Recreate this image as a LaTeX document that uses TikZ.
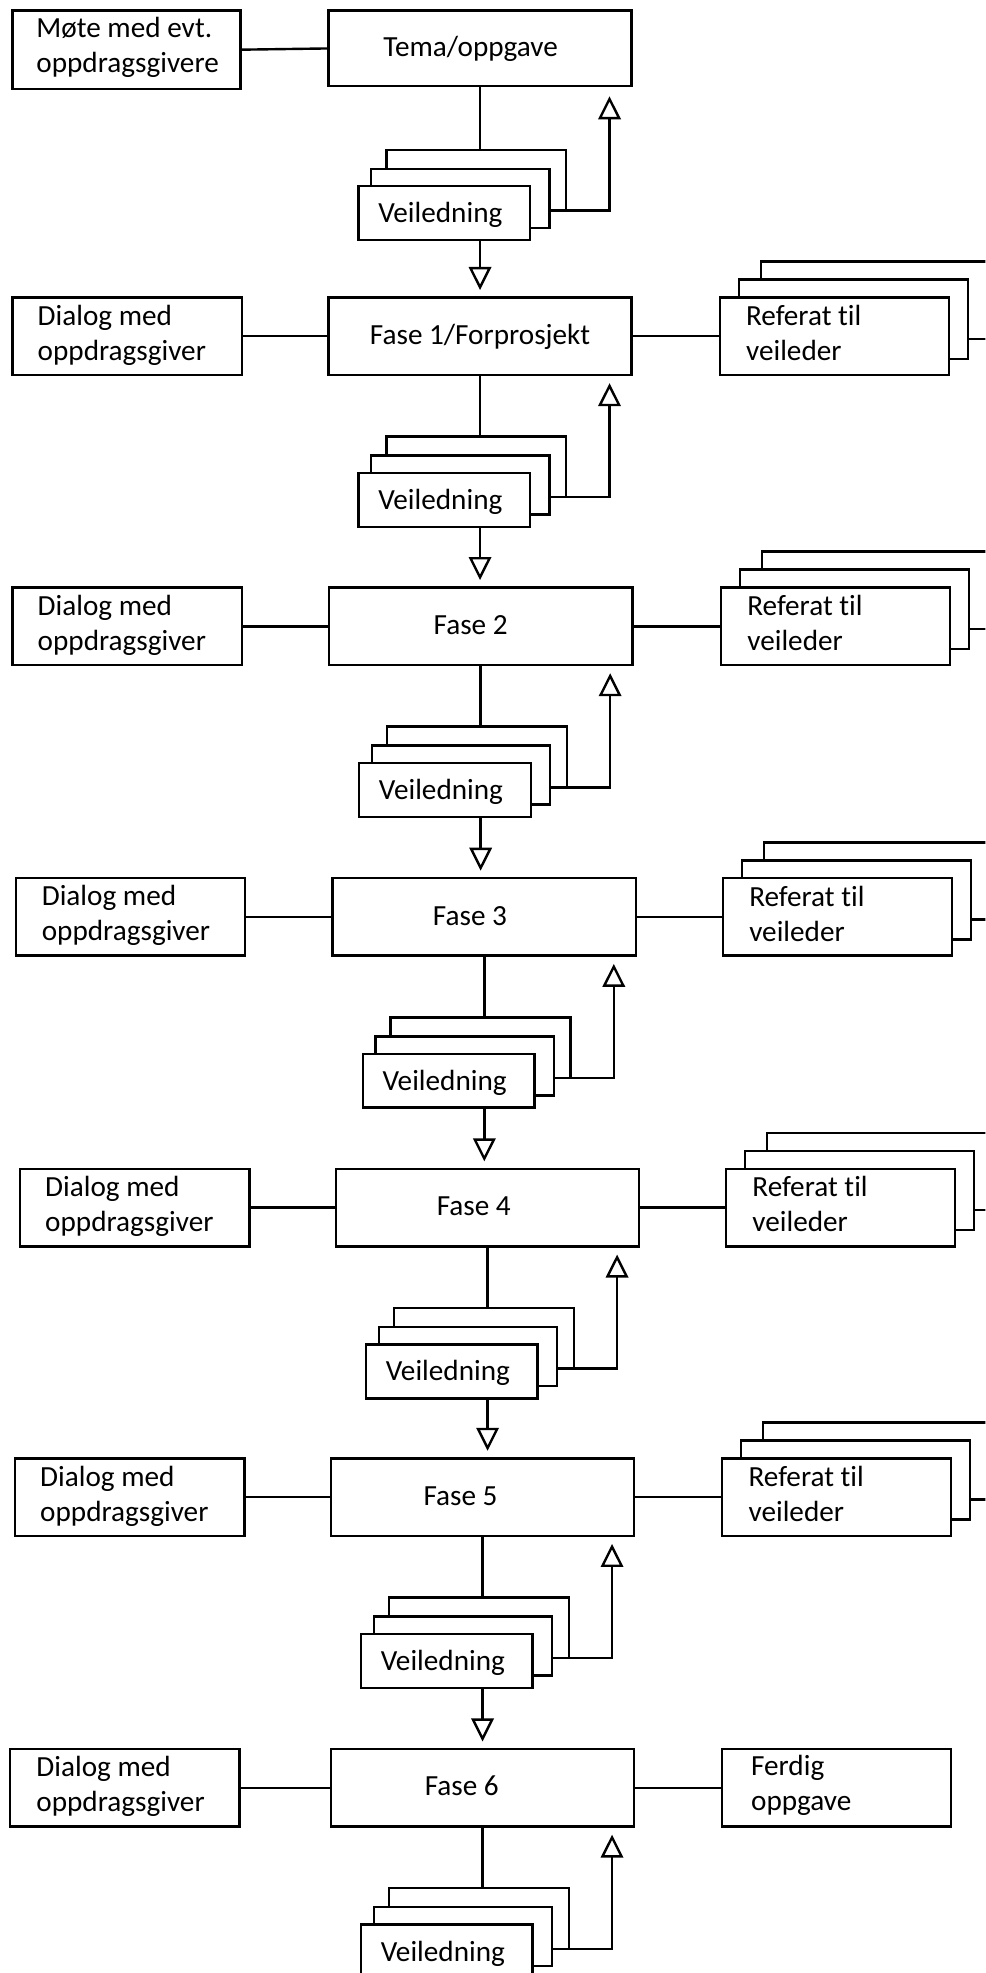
\documentclass[tikz,border=0pt]{standalone}
\usepackage{fontspec}
\setmainfont[Ligatures=NoCommon]{Carlito}
\usetikzlibrary{arrows.meta}
\begin{document}
\begin{tikzpicture}[x=0.629pt, y=-0.629pt, line width=1.2pt,
  bx/.style={draw, fill=white, inner sep=0pt, outer sep=0pt, anchor=north west},
  sz/.style 2 args={minimum width=#1*0.629pt, minimum height=#2*0.629pt},
  txt/.style={font=\fontsize{14.6}{17.5}\selectfont, inner sep=0pt, align=left, anchor=base west},
  ctxt/.style={font=\fontsize{14.6}{17.5}\selectfont, inner sep=0pt, anchor=base},
  arr/.style={-{Triangle[open, length=11.5pt, width=11.2pt]}}]
\path[use as bounding box] (0,0) rectangle (783,1568);
\clip (0,0) rectangle (783,1568);

% centre boxes
\node[bx, sz={241}{60}]   (f0) at (261,8.5) {};
\node[ctxt] (ft0) at (374,8.5+36.5) {Tema/oppgave};
\node[bx, sz={241}{61.5}] (f1) at (261,236.5) {};
\node[ctxt] (ft1) at (381.5,236.5+37.3) {Fase 1/Forprosjekt};
\node[bx, sz={241}{61.5}] (f2) at (261.5,467) {};
\node[ctxt] (ft2) at (374,467+37.3) {Fase 2};
\node[bx, sz={241}{61.5}] (f3) at (264.4,698) {};
\node[ctxt] (ft3) at (373.5,698+37.3) {Fase 3};
\node[bx, sz={241}{61.5}] (f4) at (267,929) {};
\node[ctxt] (ft4) at (376.5,929+37.3) {Fase 4};
\node[bx, sz={241}{61.5}] (f5) at (263,1159) {};
\node[ctxt] (ft5) at (366,1159+37.3) {Fase 5};
\node[bx, sz={241}{61.5}] (f6) at (263,1390) {};
\node[ctxt] (ft6) at (367,1390+37.3) {Fase 6};

% left boxes (anchor base = baseline of the last line)
\node[bx, sz={181}{62}] (d0) at (10,8.5) {};
\node[txt] (dt0) at (10+18,8.5+49.5) {Møte med evt.\\oppdragsgivere};
\node[bx, sz={182.3}{61.5}] (d1) at (10,236.5) {};
\node[txt] (dt1) at (10+19,236.5+49.8) {Dialog med\\oppdragsgiver};
\node[bx, sz={182.3}{61.5}] (d2) at (10,467) {};
\node[txt] (dt2) at (10+19,467+49.8) {Dialog med\\oppdragsgiver};
\node[bx, sz={182.3}{61.5}] (d3) at (12.5,698) {};
\node[txt] (dt3) at (12.5+19.8,698+49.8) {Dialog med\\oppdragsgiver};
\node[bx, sz={182.3}{61.5}] (d4) at (16,929) {};
\node[txt] (dt4) at (16+19,929+49.8) {Dialog med\\oppdragsgiver};
\node[bx, sz={182.3}{61.5}] (d5) at (12,1159) {};
\node[txt] (dt5) at (12+19,1159+49.8) {Dialog med\\oppdragsgiver};
\node[bx, sz={182.3}{61.5}] (d6) at (8,1390) {};
\node[txt] (dt6) at (8+20,1390+49.8) {Dialog med\\oppdragsgiver};

\foreach \i in {0,...,6} { \draw (d\i.east) -- (f\i.west); }

% Referat stacks
\foreach \i/\T/\F in {1/236.5/572, 2/467/573, 3/698/574.5, 4/929/577, 5/1159/574} {
  \node[bx, sz={182}{61.4}] (rc\i) at (\F+32.6,\T-28.6) {};
  \node[bx, sz={182}{62.9}] (rb\i) at (\F+15.1,\T-14.3) {};
  \node[bx, sz={182}{61.5}] (ra\i) at (\F,\T) {};
  \node[txt] (rt\i) at (\F+20,\T+50) {Referat til\\veileder};
  \draw (f\i.east) -- (ra\i.west);
}

% Ferdig
\node[bx, sz={182}{61.5}] (fe) at (574,1390) {};
\node[txt] (fet) at (574+22,1390+49) {Ferdig\\oppgave};
\draw (f6.east) -- (fe.west);

% Veiledning stacks
\foreach \i/\T/\L in {0/8.5/261, 1/236.5/261, 2/467/261.5, 3/698/264.4, 4/929/267, 5/1159/263, 6/1390/263} {
  \node[bx, sz={143}{48.2}]    (vc\i) at (\L+46,\T+110.5) {};
  \node[bx, sz={141.7}{46.9}]  (vb\i) at (\L+34,\T+125.6) {};
  \node[bx, sz={136.3}{42.9}]  (va\i) at (\L+24,\T+139.4) {};
  \node[txt] (vt\i) at (\L+38.7,\T+168.5) {Veiledning};
  \draw (f\i.south) -- (f\i.south |- vc\i.north);
  \coordinate (r\i) at (\L+223.4,\T+61.5);
  \draw[arr, shorten >=4.1pt] (vc\i.south east) -| (r\i);
}

% down arrows
\foreach \i/\j in {0/1, 1/2, 2/3, 3/4, 4/5, 5/6} {
  \draw[arr, shorten >=3.8pt] (f\i.south |- va\i.south) -- (f\i.south |- f\j.north);
}
\end{tikzpicture}
\end{document}
